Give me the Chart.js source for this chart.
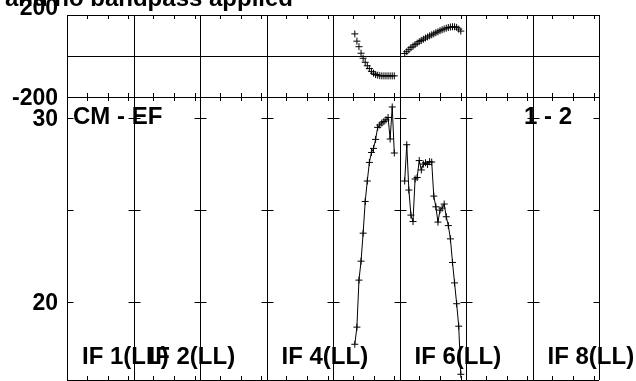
<!DOCTYPE html>
<html>
<head>
<meta charset="utf-8">
<script src="https://cdn.jsdelivr.net/npm/chart.js@4.4.0/dist/chart.umd.min.js"></script>
<style>
  html, body { margin: 0; padding: 0; background: #fff; }
  #wrap { position: relative; width: 636px; height: 381px; }
</style>
</head>
<body>
<div id="wrap"><canvas id="possm"></canvas></div>
<script>
// POSSM style plot: 8 IFs side by side, 32 channels each
const chansPerIf = 32;
const ifLabels = ['IF 1(LL)', 'IF 2(LL)', '', 'IF 4(LL)', '', 'IF 6(LL)', '', 'IF 8(LL)'];
const titleText = 'applied and no bandpass applied';
const baselineText = 'CM - EF';
const pageText = '1 - 2';

const phaseRange = [-200, 200];
const phaseTickLabels = [-200, 200];
const ampRange = [15.76, 31.12];
const ampTicks = [20, 25, 30];
const ampTickLabels = [20, 30];
const tickChans = [10, 20, 30];

// IF 5
const if5Chans = [11, 12, 13, 14, 15, 16, 17, 18, 19, 20, 21, 22, 23, 24, 25, 26, 27, 28, 29, 30];
const if5Amp = [17.70, 18.63, 21.18, 22.21, 23.73, 25.45, 26.56, 27.57, 28.11, 28.33,
                28.82, 29.47, 29.60, 29.71, 29.79, 29.88, 30.01, 28.84, 30.58, 28.08];
const if5Phase = [107.8, 72.4, 45.4, 13.5, -11.0, -30.7, -47.9, -61.1, -74.9, -83.7,
                  -90.6, -93.5, -96.0, -97, -97, -97, -97, -97, -97, -97];

// IF 6
const if6Chans = [3, 4, 5, 6, 7, 8, 9, 10, 11, 12, 13, 14, 15, 16, 17, 18, 19, 20, 21, 22,
                  23, 24, 25, 26, 27, 28, 29, 30];
const if6Amp = [26.56, 28.53, 26.07, 24.71, 24.36, 26.67, 26.75, 27.67, 27.16, 27.48,
                27.55, 27.46, 27.61, 27.59, 25.74, 25.16, 24.33, 24.98, 25.09, 25.31,
                24.62, 24.14, 23.42, 22.14, 21.03, 19.9, 18.68, 16.07];
const if6Phase = [12.0, 20.9, 30.7, 40.6, 47.9, 55.5, 62.6, 70.0, 75.9, 81.8,
                  87.6, 93.0, 98.4, 103.3, 108.3, 113.7, 118.1, 123.5, 127.9, 131.8,
                  135.8, 138.7, 141.2, 142.6, 142.6, 139.7, 131.3, 121.5];

function toPoints(ifNum, chans, vals) {
    return chans.map((c, i) => ({ x: (ifNum - 1) * chansPerIf + c, y: vals[i] }));
}

const FONT_SIZE = 24;
const FONT = 'bold ' + FONT_SIZE + 'px "Liberation Sans", Arial, sans-serif';
const AXIS_FONT = 'bold 23px "Liberation Sans", Arial, sans-serif';

const possmFrame = {
    id: 'possmFrame',
    beforeDatasetsDraw(chart) {
        const { ctx } = chart;
        const x = chart.scales.x, yPhase = chart.scales.yPhase, yAmp = chart.scales.yAmp;
        const left = x.left, right = x.right;
        const top = yPhase.top, mid = yPhase.bottom, bottom = yAmp.bottom;
        const snap = v => Math.round(v) + 0.5;
        ctx.save();
        ctx.strokeStyle = '#000';
        ctx.lineWidth = 1;
        ctx.beginPath();
        [top, mid, bottom, yPhase.getPixelForValue(0)].forEach(py => {
            ctx.moveTo(left, snap(py));
            ctx.lineTo(right, snap(py));
        });
        for (let k = 0; k <= ifLabels.length; k++) {
            const px = snap(x.getPixelForValue(k * chansPerIf + 0.5));
            ctx.moveTo(px, top);
            ctx.lineTo(px, bottom);
            if (k < ifLabels.length) {
                tickChans.forEach(c => {
                    const tx = snap(x.getPixelForValue(k * chansPerIf + c));
                    ctx.moveTo(tx, top); ctx.lineTo(tx, top + 4);
                    ctx.moveTo(tx, mid - 4); ctx.lineTo(tx, mid + 4);
                    ctx.moveTo(tx, bottom - 4); ctx.lineTo(tx, bottom);
                });
            }
            ampTicks.forEach(v => {
                const py = snap(yAmp.getPixelForValue(v));
                ctx.moveTo(Math.max(left, px - 6), py);
                ctx.lineTo(Math.min(right, px + 6), py);
            });
        }
        ctx.stroke();
        ctx.restore();
    },
    afterDraw(chart) {
        const { ctx } = chart;
        const x = chart.scales.x, yPhase = chart.scales.yPhase, yAmp = chart.scales.yAmp;
        ctx.save();
        ctx.fillStyle = '#000';
        ctx.font = FONT;
        ctx.textBaseline = 'alphabetic';

        // title, cut off at the top of the page
        ctx.textAlign = 'right';
        ctx.fillText(titleText, 293, 5.5);

        // y axis labels, digits centred on the tick (top one sits on the frame)
        ctx.font = AXIS_FONT;
        const labelX = x.left - 9;
        const half = 23 * 0.358;
        phaseTickLabels.forEach(v => {
            const py = yPhase.getPixelForValue(v);
            ctx.fillText(String(v), labelX, v === phaseRange[1] ? py : py + half);
        });
        ampTickLabels.forEach(v => {
            ctx.fillText(String(v), labelX, yAmp.getPixelForValue(v) + half);
        });

        // baseline / page labels
        ctx.font = FONT;
        ctx.textAlign = 'left';
        ctx.fillText(baselineText, x.left + 6, yAmp.top + 26.5);
        ctx.textAlign = 'right';
        ctx.fillText(pageText, x.right - 27, yAmp.top + 26.5);

        // IF labels
        ctx.textAlign = 'left';
        ifLabels.forEach((lab, k) => {
            if (!lab) return;
            const px = x.getPixelForValue(k * chansPerIf + 0.5);
            ctx.fillText(lab, px + 15, yAmp.bottom - 16);
        });
        ctx.restore();
    }
};

const hidden = {
    grid: { display: false },
    border: { display: false },
    ticks: { display: false }
};

new Chart(document.getElementById('possm'), {
    type: 'scatter',
    data: {
        datasets: [
            {
                label: 'IF 5 phase', yAxisID: 'yPhase', data: toPoints(5, if5Chans, if5Phase),
                showLine: false, pointStyle: 'cross', pointRadius: 3.5, borderColor: '#000', borderWidth: 1
            },
            {
                label: 'IF 6 phase', yAxisID: 'yPhase', data: toPoints(6, if6Chans, if6Phase),
                showLine: false, pointStyle: 'cross', pointRadius: 3.5, borderColor: '#000', borderWidth: 1
            },
            {
                label: 'IF 5 amp', yAxisID: 'yAmp', data: toPoints(5, if5Chans, if5Amp),
                showLine: true, tension: 0, pointStyle: 'cross', pointRadius: 3.5, borderColor: '#000', borderWidth: 1
            },
            {
                label: 'IF 6 amp', yAxisID: 'yAmp', data: toPoints(6, if6Chans, if6Amp),
                showLine: true, tension: 0, pointStyle: 'cross', pointRadius: 3.5, borderColor: '#000', borderWidth: 1
            }
        ]
    },
    options: {
        responsive: true,
        maintainAspectRatio: false,
        animation: false,
        layout: { autoPadding: false, padding: { left: 67, right: 37, top: 15, bottom: 1 } },
        plugins: {
            legend: { display: false },
            tooltip: { enabled: false },
            title: { display: false }
        },
        scales: {
            x: Object.assign({
                type: 'linear', min: 0.5, max: 256.5,
                afterFit: s => { s.height = 0; }
            }, hidden),
            // first axis of the stack goes to the bottom
            yAmp: Object.assign({
                type: 'linear', position: 'left', stack: 'possm', stackWeight: 283,
                min: ampRange[0], max: ampRange[1],
                afterFit: s => { s.width = 0; }
            }, hidden),
            yPhase: Object.assign({
                type: 'linear', position: 'left', stack: 'possm', stackWeight: 82,
                min: phaseRange[0], max: phaseRange[1],
                afterFit: s => { s.width = 0; }
            }, hidden)
        }
    },
    plugins: [possmFrame]
});
</script>
</body>
</html>
